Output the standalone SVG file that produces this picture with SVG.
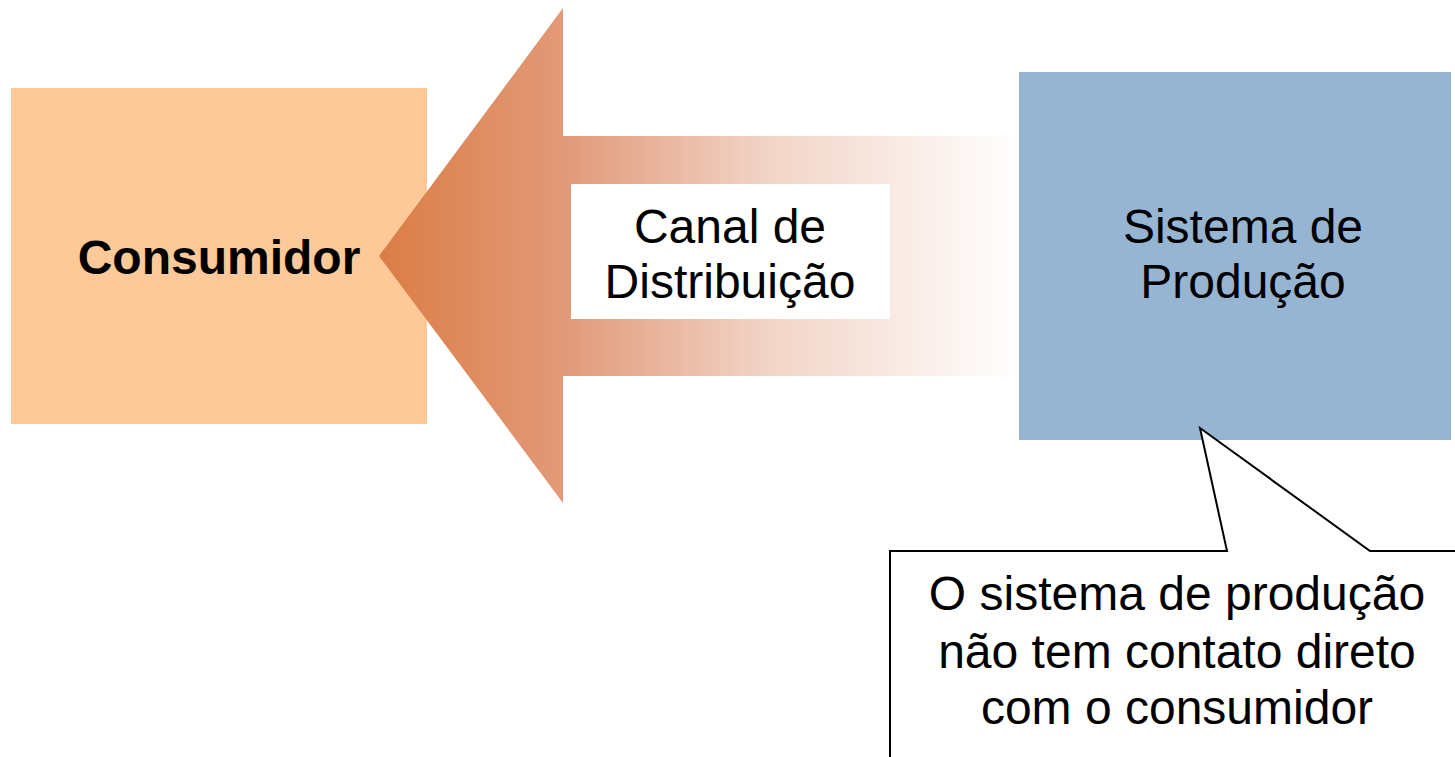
<svg xmlns="http://www.w3.org/2000/svg" width="1455" height="757" viewBox="0 0 1455 757">
  <defs>
    <linearGradient id="arrowGrad" gradientUnits="userSpaceOnUse" x1="379" y1="0" x2="1019" y2="0">
      <stop offset="0" stop-color="#DB7D45"/>
      <stop offset="0.29" stop-color="#E29A79"/>
      <stop offset="0.6" stop-color="#F2D3C5"/>
      <stop offset="1" stop-color="#FFFFFF"/>
    </linearGradient>
  </defs>
  <style>
    text { font-family: "Liberation Sans", Arial, sans-serif; font-size: 48px; fill: #000; text-anchor: middle; }
    .bold { font-weight: bold; }
  </style>
  <rect width="1455" height="757" fill="#FFFFFF"/>
  <g id="consumidor">
    <rect x="11" y="88" width="416" height="336" fill="#FDC998"/>
    <text class="bold" x="219" y="274">Consumidor</text>
  </g>
  <g id="connectors">
    <polygon id="canal-arrow" points="379,256 563,8 563,136 1019,136 1019,376 563,376 563,503" fill="url(#arrowGrad)"/>
  </g>
  <g id="canal-label">
    <rect x="571" y="184" width="319" height="135" fill="#FFFFFF"/>
    <text x="730" y="243">Canal de</text>
    <text x="730" y="298">Distribuição</text>
  </g>
  <g id="sistema">
    <rect x="1019" y="72" width="432" height="368" fill="#95B5D3"/>
    <text x="1243" y="243">Sistema de</text>
    <text x="1243" y="298">Produção</text>
  </g>
  <g id="callout">
    <path d="M890,760 L890,551 L1227,551 L1200,428 L1370,551 L1460,551 L1460,760 Z" fill="#FFFFFF" stroke="#000000" stroke-width="2" stroke-linejoin="miter"/>
    <text x="1177" y="610">O sistema de produção</text>
    <text x="1177" y="668">não tem contato direto</text>
    <text x="1177" y="724">com o consumidor</text>
  </g>
</svg>
